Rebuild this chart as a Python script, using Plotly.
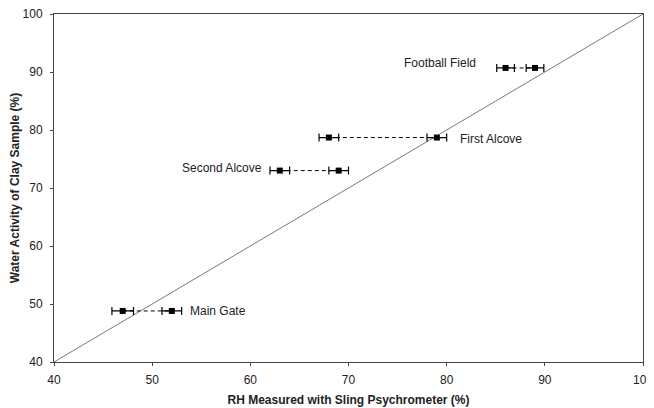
import plotly.graph_objects as go

sites = ["Main Gate", "Second Alcove", "First Alcove", "Football Field"]
rh_low = [47.0, 63.0, 68.0, 86.0]
rh_high = [52.0, 69.0, 79.0, 89.0]
aw = [48.8, 73.0, 78.7, 90.7]
err_low = [1.1, 1.0, 1.0, 0.9]
err_high = [1.0, 1.0, 1.0, 0.9]
label_x = [53.6, 61.4, 81.2, 83.2]
label_y = [48.8, 73.5, 78.4, 91.5]
label_anchor = ["left", "right", "left", "right"]
ticks = [40, 50, 60, 70, 80, 90, 100]

FONT = "Liberation Sans, Arial"
fig = go.Figure()

# 1:1 line
fig.add_trace(go.Scatter(x=[40, 100], y=[40, 100], mode="lines",
                         line=dict(color="#555555", width=0.8), showlegend=False, hoverinfo="skip"))

for i in range(len(sites)):
    fig.add_trace(go.Scatter(
        x=[rh_low[i], rh_high[i]], y=[aw[i], aw[i]], mode="lines+markers",
        line=dict(color="black", width=1, dash="4px,3px"),
        marker=dict(symbol="square", size=6, color="black"),
        error_x=dict(type="data", array=[err_low[i], err_high[i]], color="black",
                     thickness=1.2, width=4),
        showlegend=False))
    fig.add_annotation(x=label_x[i], y=label_y[i], text=sites[i], showarrow=False,
                       xanchor=label_anchor[i], yanchor="middle",
                       font=dict(size=12, color="#222222", family=FONT))

axis_common = dict(range=[40, 100], tickvals=ticks, showgrid=False, zeroline=False,
                   showline=True, linecolor="#444444", linewidth=1, mirror=True,
                   ticks="outside", ticklen=3, tickcolor="#444444", automargin=False,
                   ticklabeloverflow="allow",
                   tickfont=dict(size=12, color="#222222", family=FONT))

fig.update_xaxes(**axis_common, ticklabelstandoff=4,
                 title=dict(text="<b>RH Measured with Sling Psychrometer (%)</b>", standoff=9,
                            font=dict(size=12, color="#222222", family=FONT)))
fig.update_yaxes(**axis_common, ticklabelstandoff=5,
                 title=dict(text="<b>Water Activity of Clay Sample (%)</b>", standoff=2,
                            font=dict(size=12, color="#222222", family=FONT)))

# page body has an 8px default margin, so the figure is sized to fill the rest
fig.update_layout(width=646, height=400, margin=dict(l=46, r=11, t=6, b=46),
                  plot_bgcolor="white", paper_bgcolor="white",
                  font=dict(family=FONT, size=12, color="#222222"))

fig.write_html("out.html")
